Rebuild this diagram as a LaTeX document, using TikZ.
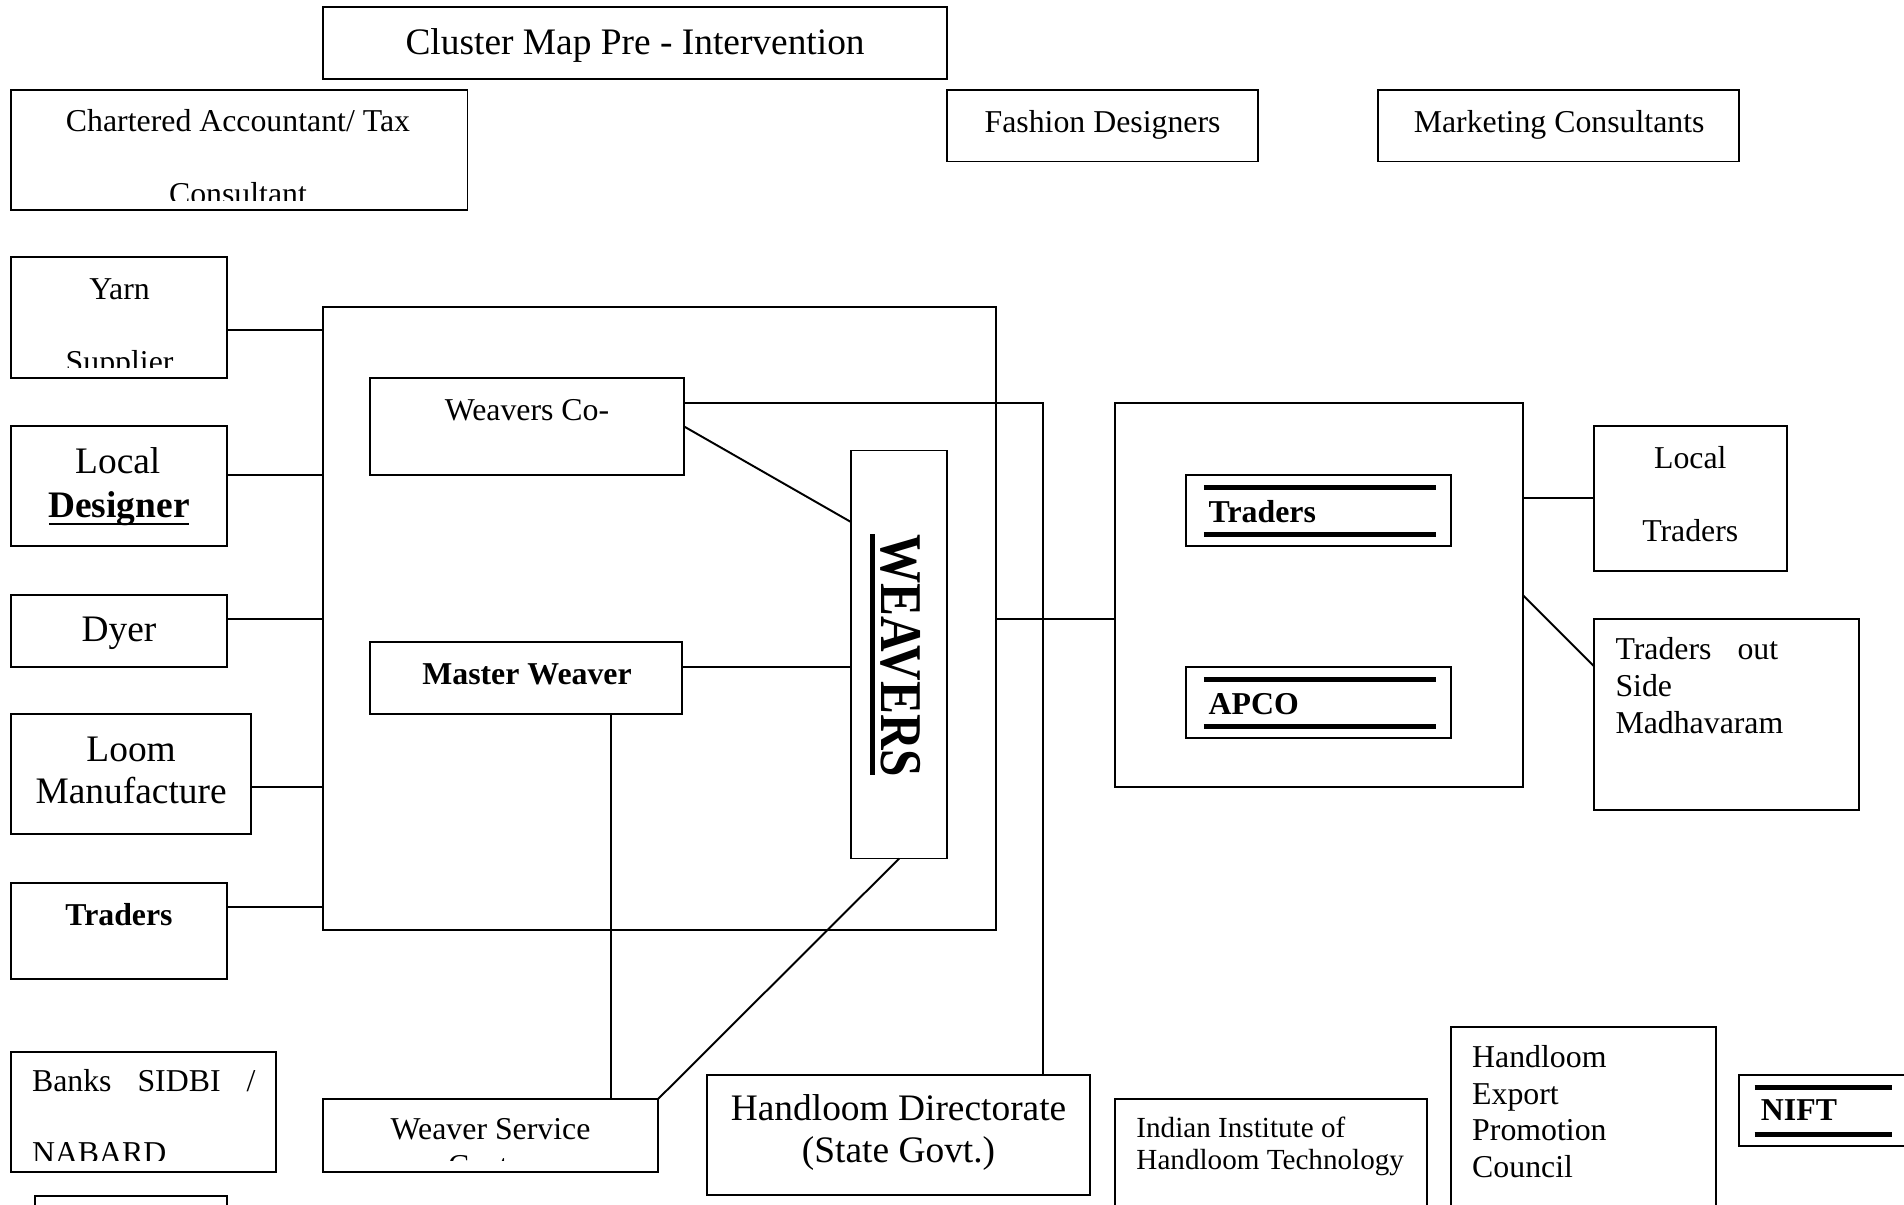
\documentclass[tikz,border=0pt]{standalone}
\usepackage{fontspec}
\setmainfont{Liberation Serif}
\usetikzlibrary{fit}
\newcommand\mkbox[5]{\node[box, fit={(#2,#3) (#4,#5)}] (#1) {};}
\tikzset{
  box/.style={draw, line width=0.8pt, inner sep=0pt, outer sep=0pt},
  conn/.style={line width=0.8pt},
  bar/.style={line width=1.9pt},
  tA/.style={inner sep=0pt, font=\fontsize{13.1pt}{15pt}\selectfont},
  tB/.style={inner sep=0pt, font=\fontsize{15.4pt}{17pt}\selectfont},
  tAb/.style={inner sep=0pt, font=\fontsize{13.1pt}{15pt}\selectfont\bfseries},
  tBb/.style={inner sep=0pt, font=\fontsize{15.4pt}{17pt}\selectfont\bfseries},
  tS/.style={inner sep=0pt, font=\fontsize{12pt}{14pt}\selectfont},
}
\begin{document}
\begin{tikzpicture}[x=0.5pt,y=-0.5pt]
\fill[white] (0,0) rectangle (1568,992);
\clip (0,0) rectangle (1568,992);
% boxes
\mkbox{title}{266}{6}{780}{65}
\mkbox{ca}{9}{74}{385}{173}
\mkbox{fd}{780}{74}{1036}{133}
\mkbox{mc}{1135}{74}{1432}{133}
\mkbox{yarn}{9}{212}{187}{311}
\mkbox{ld}{9}{351}{187}{450}
\mkbox{dyer}{9}{490}{187}{549}
\mkbox{loom}{9}{588}{207}{687}
\mkbox{trl}{9}{727}{187}{806}
\mkbox{big}{266}{253}{820}{766}
\mkbox{wcoop}{305}{311}{563}{391}
\mkbox{mw}{305}{529}{562}{588}
\mkbox{wv}{701}{371}{780}{707}
\mkbox{rbox}{918}{332}{1254}{648}
\mkbox{tri}{977}{391}{1195}{450}
\mkbox{apco}{977}{549}{1195}{608}
\mkbox{ltr}{1313}{351}{1472}{470}
\mkbox{otr}{1313}{510}{1531}{667}
\mkbox{banks}{9}{866}{227}{965}
\mkbox{small}{29}{985}{187}{1010}
\mkbox{wsc}{266}{905}{542}{965}
\mkbox{hdir}{582}{885}{898}{984}
\mkbox{iiht}{918}{905}{1175}{1010}
\mkbox{hepc}{1195}{846}{1413}{1010}
\mkbox{nift}{1432}{885}{1575}{944}
% texts
\node[tB, anchor=base] (ttitle) at (523,45) {Cluster Map Pre - Intervention};
\node[tA, anchor=base] (tca1) at (196,108) {Chartered Accountant/ Tax};
\begin{scope}
\clip (9,74) rectangle (385,165);
\node[tA, anchor=base] (tca2) at (196,168) {Consultant};
\end{scope}
\node[tA, anchor=base] (tfd) at (908,109) {Fashion Designers};
\node[tA, anchor=base] (tmc) at (1284,109) {Marketing Consultants};
\node[tA, anchor=base] (tyarn1) at (98.5,247) {Yarn};
\begin{scope}
\clip (9,212) rectangle (187,303);
\node[tA, anchor=base] (tyarn2) at (98.5,307) {Supplier};
\end{scope}
\node[tB, anchor=base] (tld1) at (97,390) {Local};
\node[tBb, anchor=base] (tld2) at (98,426) {Designer};
\draw[line width=1.1pt] (40.5,431.5) -- (156,431.5);
\node[tB, anchor=base] (tdyer) at (98,528) {Dyer};
\node[tB, anchor=base] (tloom1) at (108,627) {Loom};
\node[tB, anchor=base] (tloom2) at (108,662) {Manufacture};
\node[tAb, anchor=base] (ttrl) at (98,762) {Traders};
\node[tA, anchor=base] (twcoop) at (434,346) {Weavers Co-};
\node[tAb, anchor=base] (tmw) at (434,564) {Master Weaver};
\node[inner sep=0pt, anchor=base, rotate=-90, font=\fontsize{20.3pt}{22pt}\selectfont\bfseries] (twv) at (726,540) {\scalebox{1}[1.2]{WEAVERS}};
\draw[line width=2pt] (718.5,440) -- (718.5,638);
\draw[bar] (991.5,401.3) -- (1182.6,401.3);
\draw[bar] (991.5,440) -- (1182.6,440);
\node[tAb, anchor=base west] (ttri) at (995,430) {Traders};
\draw[bar] (991.5,559.4) -- (1182.6,559.4);
\draw[bar] (991.5,598.4) -- (1182.6,598.4);
\node[tAb, anchor=base west] (tapco) at (995,588) {APCO};
\node[tA, anchor=base] (tltr1) at (1392,385.5) {Local};
\node[tA, anchor=base] (tltr2) at (1392,446) {Traders};
\node[tA, anchor=base west] (totr1) at (1330,543) {\makebox[67pt][s]{Traders\hfill out}};
\node[tA, anchor=base west] (totr2) at (1330,573.5) {Side};
\node[tA, anchor=base west] (totr3) at (1330,604) {Madhavaram};
\node[tA, anchor=base west] (tbanks1) at (26,899) {\makebox[92pt][s]{Banks\hfill SIDBI\hfill /}};
\begin{scope}
\clip (9,866) rectangle (227,956);
\node[tA, anchor=base west] (tbanks2) at (26,958) {NABARD};
\end{scope}
\node[tA, anchor=base] (twsc1) at (404,938) {Weaver Service};
\begin{scope}
\clip (266,905) rectangle (542,956);
\node[tA, anchor=base] (twsc2) at (404,969) {Centre};
\end{scope}
\node[tB, anchor=base] (thdir1) at (740,923) {Handloom Directorate};
\node[tB, anchor=base] (thdir2) at (740,957.5) {(State Govt.)};
\node[tS, anchor=base west] (tiiht1) at (935.5,937) {Indian Institute of};
\node[tS, anchor=base west] (tiiht2) at (935.5,963) {Handloom Technology};
\node[tA, anchor=base west] (thepc1) at (1212,879) {Handloom};
\node[tA, anchor=base west] (thepc2) at (1212,909.5) {Export};
\node[tA, anchor=base west] (thepc3) at (1212,939.5) {Promotion};
\node[tA, anchor=base west] (thepc4) at (1212,970) {Council};
\draw[bar] (1445,895.4) -- (1558,895.4);
\draw[bar] (1445,934.2) -- (1558,934.2);
\node[tAb, anchor=base west] (tnift) at (1449.8,923) {NIFT};
% connectors
\draw[conn] (yarn.east |- 0,272) -- (big.west |- 0,272);
\draw[conn] (ld.east |- 0,391) -- (big.west |- 0,391);
\draw[conn] (dyer.east |- 0,510) -- (big.west |- 0,510);
\draw[conn] (loom.east |- 0,648) -- (big.west |- 0,648);
\draw[conn] (trl.east |- 0,747) -- (big.west |- 0,747);
\draw[conn] (wcoop.east |- 0,332) -| (hdir.north -| 859,0);
\draw[conn] (wcoop.east |- 0,351) -- (wv.west |- 0,430);
\draw[conn] (mw.east |- 0,549) -- (wv.west |- 0,549);
\draw[conn] (mw.south -| 503,0) -- (wsc.north -| 503,0);
\draw[conn] (wv.south) -- (wsc.north east);
\draw[conn] (big.east |- 0,510) -- (rbox.west |- 0,510);
\draw[conn] (rbox.east |- 0,410) -- (ltr.west |- 0,410);
\draw[conn] (rbox.east |- 0,490) -- (otr.west |- 0,549);
\end{tikzpicture}
\end{document}
